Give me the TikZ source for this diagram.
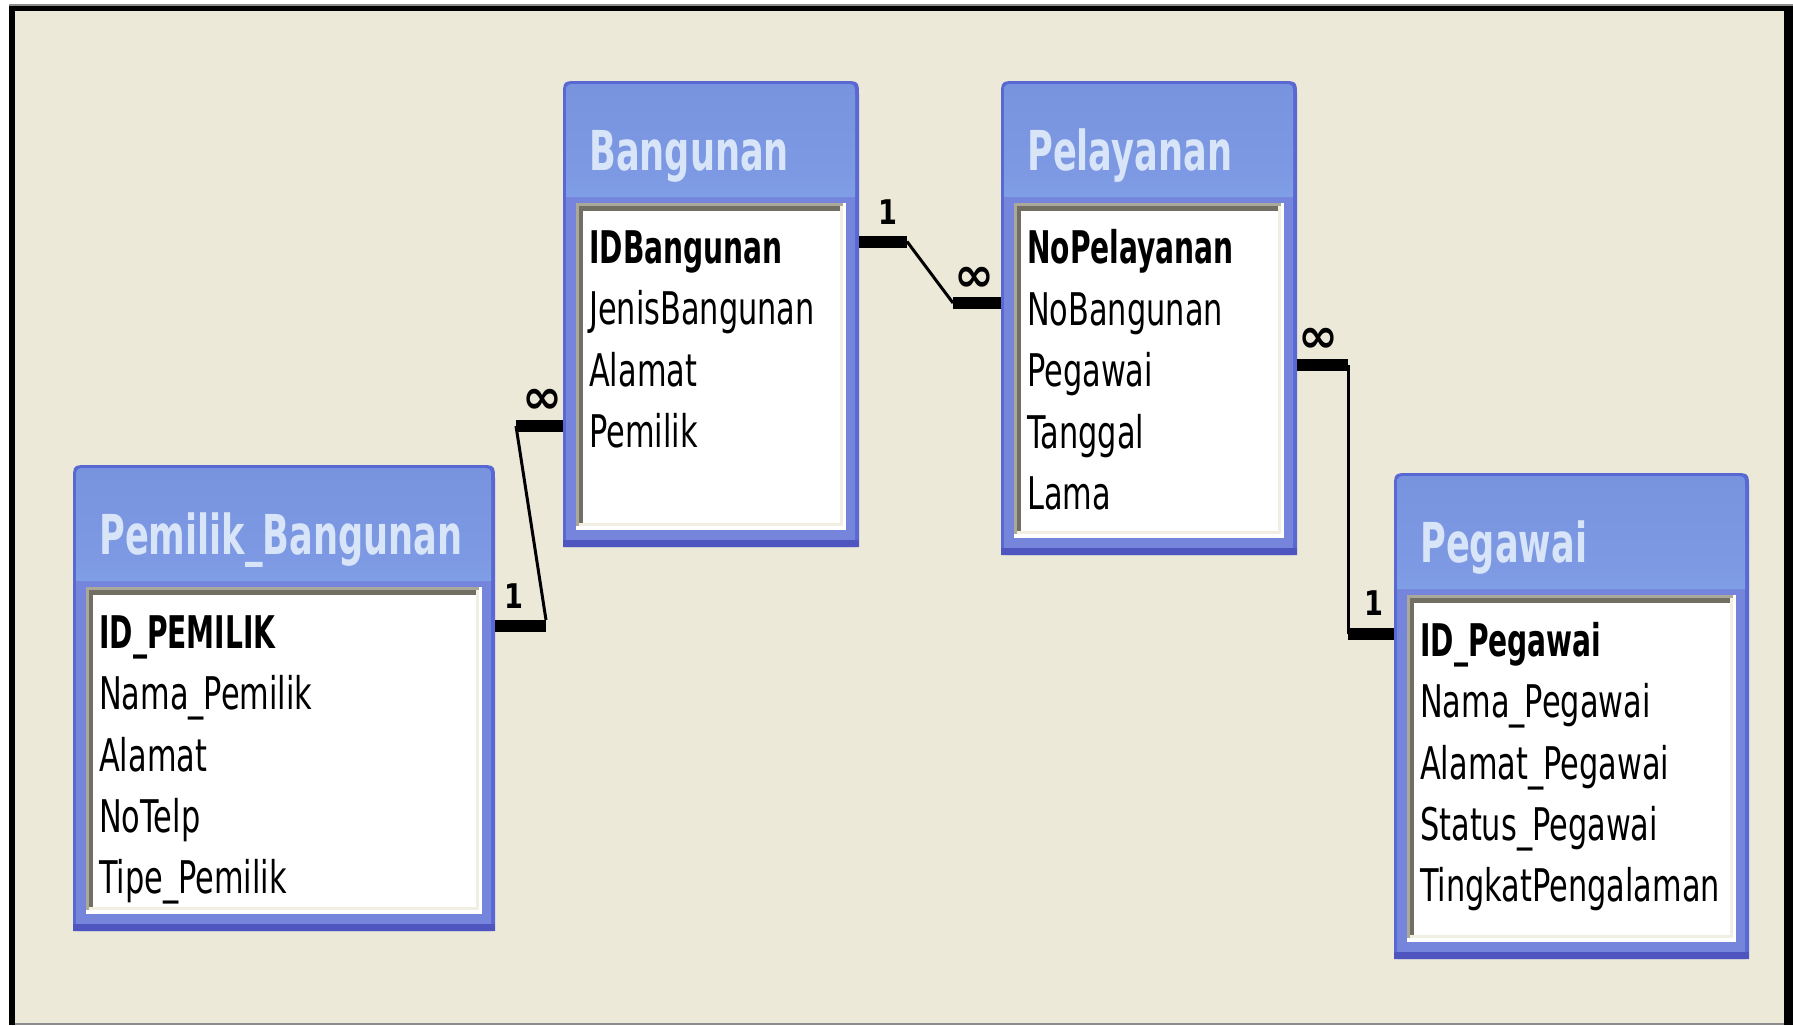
\documentclass[tikz,border=0pt]{standalone}
\usepackage{fontspec}
\setmainfont{DejaVu Sans}
\definecolor{bg}{HTML}{ECE9D8}
\definecolor{tbody}{HTML}{7585DC}
\definecolor{tedge}{HTML}{5968D2}
\definecolor{tbottom}{HTML}{4F55BE}
\definecolor{ttext}{HTML}{D8E4F8}
\definecolor{insetDark}{HTML}{716F64}
\definecolor{insetLight}{HTML}{ACA899}
\definecolor{insetCream}{HTML}{F1EFE2}
\pgfdeclareverticalshading{erhdr}{100bp}{%
  rgb(0bp)=(0.49,0.57,0.87);
  rgb(12bp)=(0.51,0.65,0.92);
  rgb(35bp)=(0.49,0.60,0.89);
  rgb(75bp)=(0.47,0.58,0.87);
  rgb(90bp)=(0.56,0.67,0.91);
  rgb(100bp)=(0.62,0.71,0.93)}
\newcommand\erfield[1]{\scalebox{0.675}[1]{\fontsize{45}{54}\selectfont #1}}
\newcommand\erkey[1]{\scalebox{0.625}[1]{\fontsize{45}{54}\selectfont\bfseries #1}}
\newcommand\ertitle[1]{\scalebox{0.64}[1]{\fontsize{55}{60}\selectfont\bfseries #1}}
\newcommand\ercard[1]{\scalebox{0.8}[1]{\fontsize{34}{40}\selectfont\bfseries #1}}
\newcommand\ermany{\fontsize{48}{50}\selectfont\bfseries ∞}
% #1 name, #2 left, #3 top, #4 right, #5 bottom, #6 title
\newcommand\ertable[6]{%
  \fill[tedge] (#2,#5) -- (#2,#3+16) .. controls (#2,#3) .. (#2+16,#3) -- (#4-16,#3) .. controls (#4,#3) .. (#4,#3+16) -- (#4,#5) -- cycle;
  \fill[tbody] (#2+3,#5) -- (#2+3,#3+16) .. controls (#2+3,#3+3) .. (#2+16,#3+3) -- (#4-16,#3+3) .. controls (#4-4,#3+3) .. (#4-4,#3+16) -- (#4-4,#5) -- cycle;
  \shade[shading=erhdr] (#2+3,#3+116) -- (#2+3,#3+16) .. controls (#2+3,#3+3) .. (#2+16,#3+3) -- (#4-16,#3+3) .. controls (#4-4,#3+3) .. (#4-4,#3+16) -- (#4-4,#3+116) -- cycle;
  \fill[tbottom] (#2,#5-7) rectangle (#4,#5);
  \fill[white] (#2+13,#3+122) rectangle (#4-13,#5-17);
  \fill[insetCream] (#2+16,#3+125) rectangle (#4-16,#5-21);
  \fill[insetLight] (#2+13,#3+122) rectangle (#4-16,#3+125);
  \fill[insetLight] (#2+13,#3+122) rectangle (#2+16,#5-21);
  \fill[insetDark] (#2+16,#3+125) rectangle (#4-19,#3+130);
  \fill[insetDark] (#2+16,#3+125) rectangle (#2+20,#5-24);
  \fill[white] (#2+20,#3+130) rectangle (#4-19,#5-24);
  \path ({(#2+#4)/2},{(#3+#5)/2}) node[inner sep=0pt, minimum width={(#4-#2)*1pt}, minimum height={(#5-#3)*1pt}] (#1) {};
  \node[titletxt] (#1-title) at (#2+26,#3+89) {\ertitle{#6}};
}
\tikzset{
  fieldtxt/.style={anchor=base west, inner sep=0pt, text=black},
  titletxt/.style={anchor=base west, inner sep=0pt, text=ttext},
  bar/.style={line width=12pt, black},
  thinline/.style={line width=3pt, black},
  cardlabel/.style={anchor=base, inner sep=0pt, text=black}
}
\begin{document}
\begin{tikzpicture}[x=1pt, y=-1pt]
\useasboundingbox (0,0) rectangle (1793,1025);
% window frame
\fill[white] (0,0) rectangle (1793,1025);
\fill[bg] (15,11) rectangle (1784,1025);
\fill[black!45] (9,4) rectangle (1793,6);
\fill[black] (9,6) rectangle (1793,11);
\fill[black] (9,6) rectangle (15,1025);
\fill[black] (1784,6) rectangle (1793,1025);
\fill[black!45] (15,1023) rectangle (1784,1025);

% tables
\ertable{bang}{563}{81}{859}{547}{Bangunan}
\node[fieldtxt] (bang-f1) at (589,263) {\erkey{IDBangunan}};
\node[fieldtxt] (bang-f2) at (589,324.5) {\erfield{JenisBangunan}};
\node[fieldtxt] (bang-f3) at (589,386) {\erfield{Alamat}};
\node[fieldtxt] (bang-f4) at (589,447) {\erfield{Pemilik}};

\ertable{pel}{1001}{81}{1297}{555}{Pelayanan}
\node[fieldtxt] (pel-f1) at (1027,263) {\erkey{NoPelayanan}};
\node[fieldtxt] (pel-f2) at (1027,325) {\erfield{NoBangunan}};
\node[fieldtxt] (pel-f3) at (1027,386) {\erfield{Pegawai}};
\node[fieldtxt] (pel-f4) at (1027,448) {\erfield{Tanggal}};
\node[fieldtxt] (pel-f5) at (1027,509) {\erfield{Lama}};

\ertable{pem}{73}{465}{495}{931}{Pemilik\_Bangunan}
\node[fieldtxt] (pem-f1) at (99,648) {\erkey{ID\_PEMILIK}};
\node[fieldtxt] (pem-f2) at (99,709) {\erfield{Nama\_Pemilik}};
\node[fieldtxt] (pem-f3) at (99,771) {\erfield{Alamat}};
\node[fieldtxt] (pem-f4) at (99,832) {\erfield{NoTelp}};
\node[fieldtxt] (pem-f5) at (99,893) {\erfield{Tipe\_Pemilik}};

\ertable{peg}{1394}{473}{1749}{959}{Pegawai}
\node[fieldtxt] (peg-f1) at (1420,656) {\erkey{ID\_Pegawai}};
\node[fieldtxt] (peg-f2) at (1420,717) {\erfield{Nama\_Pegawai}};
\node[fieldtxt] (peg-f3) at (1420,779) {\erfield{Alamat\_Pegawai}};
\node[fieldtxt] (peg-f4) at (1420,840) {\erfield{Status\_Pegawai}};
\node[fieldtxt] (peg-f5) at (1420,901) {\erfield{TingkatPengalaman}};

% connector Pemilik_Bangunan -- Bangunan
\coordinate (r1a) at (546,626);
\coordinate (r1b) at (516,426);
\draw[bar] (pem.east |- r1a) -- (r1a);
\draw[thinline] ([yshift=6pt]r1a) -- (r1b);
\draw[bar] (r1b) -- (bang.west |- r1b);
\node[cardlabel] (r1one) at (514,608) {\ercard{1}};
\node[cardlabel] (r1many) at (542,413) {\ermany};

% connector Bangunan -- Pelayanan
\coordinate (r2a) at (907,241.5);
\coordinate (r2b) at (953,303);
\draw[bar] (bang.east |- r2a) -- (r2a);
\draw[thinline] (r2a) -- (r2b);
\draw[bar] (r2b) -- (pel.west |- r2b);
\node[cardlabel] (r2one) at (888,224) {\ercard{1}};
\node[cardlabel] (r2many) at (974,291) {\ermany};

% connector Pelayanan -- Pegawai
\coordinate (r3a) at (1348,365);
\coordinate (r3b) at (1348,634);
\draw[bar] (pel.east |- r3a) -- (r3a);
\draw[thinline] (r3a) -- (r3b);
\draw[bar] (r3b) -- (peg.west |- r3b);
\node[cardlabel] (r3one) at (1374,615) {\ercard{1}};
\node[cardlabel] (r3many) at (1318,352) {\ermany};
\end{tikzpicture}
\end{document}
